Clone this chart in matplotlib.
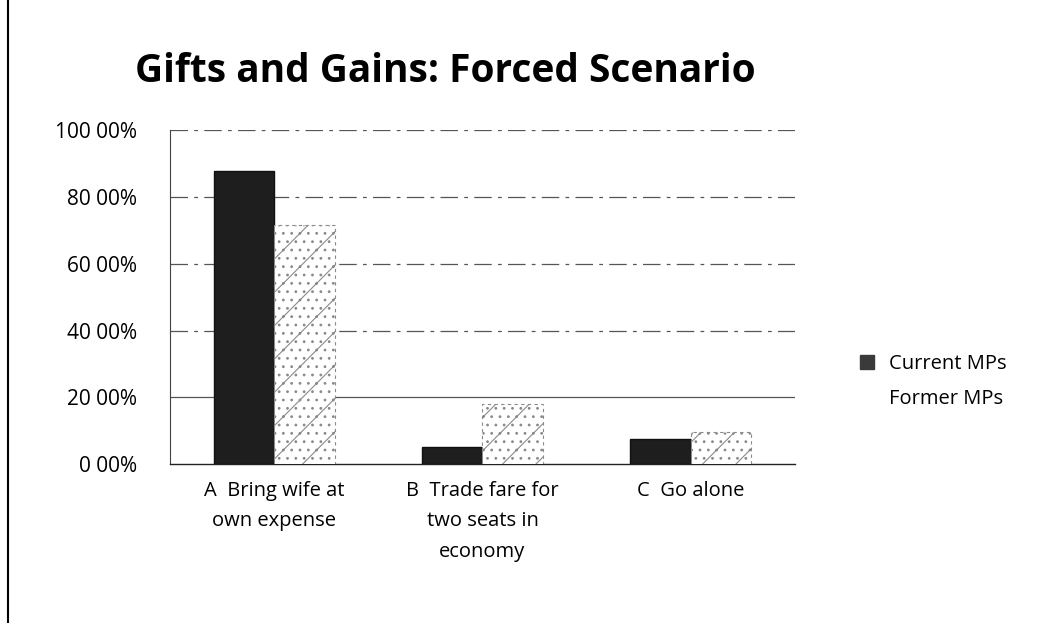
import numpy as np
import matplotlib
matplotlib.use("Agg")
from matplotlib import pyplot as plt
from matplotlib.lines import Line2D

#%%
# data
categories = ["A  Bring wife at\nown expense", "B  Trade fare for\ntwo seats in\neconomy", "C  Go alone"]
current_mps = [87.7, 5.0, 7.5]
former_mps = [71.5, 18.0, 9.5]
y_ticks = [0, 20, 40, 60, 80, 100]
y_labels = ["0 00%", "20 00%", "40 00%", "60 00%", "80 00%", "100 00%"]

#%%
plt.rcParams['font.family'] = ['Open Sans', 'DejaVu Sans']
plt.rcParams['hatch.color'] = '#9a9a9a'
plt.rcParams['hatch.linewidth'] = 0.8

fig = plt.figure(figsize=(10.46, 6.23), dpi=100)
ax = fig.add_axes([0.1625, 0.255, 0.5975, 0.536])

x = np.arange(len(categories))
w = 0.29
ax.bar(x - w/2, current_mps, w, color='#1e1e1e', edgecolor='#111111', zorder=3)
ax.bar(x + w/2, former_mps, w, color='white', edgecolor='#8a8a8a', hatch='/..',
       linewidth=0.8, linestyle=(0, (3, 3)), zorder=3)

ax.set_xlim(-0.5, 2.5)
ax.set_ylim(0, 100)
ax.set_yticks(y_ticks)
ax.set_yticklabels(y_labels, fontsize=15)
ax.set_xticks(x)
ax.set_xticklabels(categories, fontsize=14.5, linespacing=1.7, va='top')
ax.tick_params(axis='both', length=0)
ax.tick_params(axis='y', pad=24)
ax.tick_params(axis='x', pad=12)

for yv in y_ticks[1:]:
    ls = '-' if yv == 20 else (0, (14, 5, 3, 5))
    ax.axhline(yv, color='#555555', lw=0.9, ls=ls, zorder=1)

for s in ['top', 'right']:
    ax.spines[s].set_visible(False)
ax.spines['left'].set_color('#444444')
ax.spines['left'].set_linewidth(0.8)
ax.spines['bottom'].set_color('#222222')
ax.spines['bottom'].set_linewidth(1.0)

fig.text(0.426, 0.885, "Gifts and Gains: Forced Scenario", fontsize=28,
         fontweight='bold', ha='center', va='center')

handles = [Line2D([], [], marker='s', ls='', color='#3a3a3a', markersize=10),
           Line2D([], [], marker='s', ls='', color='white', markersize=10)]
fig.legend(handles, ["Current MPs", "Former MPs"], loc='center left',
           bbox_to_anchor=(0.792, 0.387), frameon=False, fontsize=14.5,
           handletextpad=0.1, labelspacing=0.75)

# left border line of the scanned page
fig.add_artist(Line2D([0.008, 0.008], [0.0, 1.0], color='black', lw=1.5))

fig.savefig('out.png', dpi=100)
